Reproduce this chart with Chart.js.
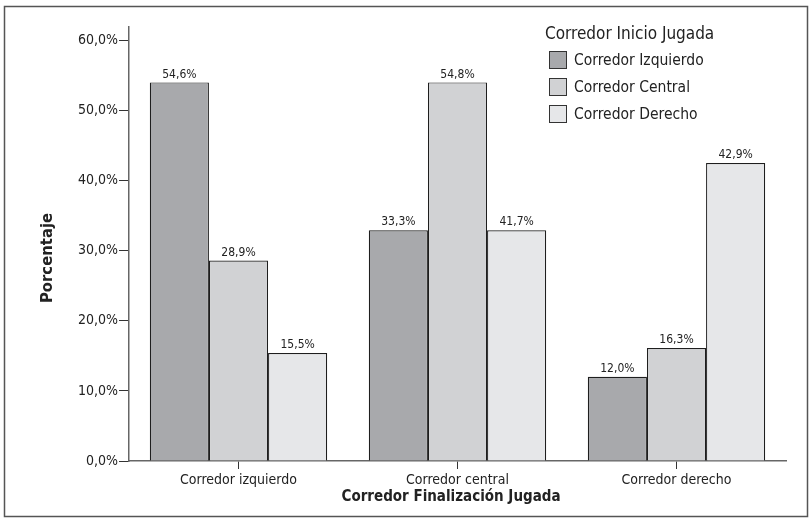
<!DOCTYPE html>
<html>
<head>
<meta charset="utf-8">
<script src="https://cdn.jsdelivr.net/npm/chart.js@4"></script>
<style>
  html, body { margin: 0; padding: 0; background: #fff; }
  #wrap { width: 812px; height: 523px; }
</style>
</head>
<body>
<div id="wrap"><canvas id="grafica" width="812" height="523"></canvas></div>
<script>
// ==============================
// DATOS
// ==============================
const categorias = ['Corredor izquierdo', 'Corredor central', 'Corredor derecho'];
const series = ['Corredor Izquierdo', 'Corredor Central', 'Corredor Derecho'];

// altura de las barras tal como se ven
const izquierdo = [54.0, 32.9, 12.0];
const central   = [28.6, 54.0, 16.1];
const derecho   = [15.4, 32.9, 42.5];

// etiquetas impresas encima de cada barra
const etiqIzquierdo = ['54,6%', '33,3%', '12,0%'];
const etiqCentral   = ['28,9%', '54,8%', '16,3%'];
const etiqDerecho   = ['15,5%', '41,7%', '42,9%'];

const ticksY = [0, 10, 20, 30, 40, 50, 60];
const tituloLeyenda = 'Corredor Inicio Jugada';
const tituloX = 'Corredor Finalización Jugada';
const tituloY = 'Porcentaje';

const colores = ['#a8a9ac', '#d1d2d4', '#e6e7e9'];
const FUENTE = '"Liberation Sans Narrow", "DejaVu Sans Condensed", Arial, sans-serif';

// ==============================
// PLUGIN: MARCO, LEYENDA, TITULOS Y ETIQUETAS
// ==============================
const extrasPlugin = {
    id: 'extras',

    beforeDraw(chart) {
        const ctx = chart.ctx;
        ctx.save();
        ctx.fillStyle = '#fff';
        ctx.fillRect(0, 0, chart.width, chart.height);
        ctx.strokeStyle = '#555';
        ctx.lineWidth = 1.5;
        ctx.strokeRect(4.5, 6.5, 803, 510);
        ctx.restore();
    },

    afterDatasetsDraw(chart) {
        const ctx = chart.ctx;
        ctx.save();

        // etiquetas de valor
        ctx.font = '12px ' + FUENTE;
        ctx.fillStyle = '#222';
        ctx.textAlign = 'center';
        ctx.textBaseline = 'bottom';
        chart.data.datasets.forEach((ds, i) => {
            chart.getDatasetMeta(i).data.forEach((bar, j) => {
                ctx.fillText(ds.etiquetas[j], bar.x, bar.y - 2);
            });
        });

        // leyenda
        ctx.textAlign = 'left';
        ctx.textBaseline = 'middle';
        ctx.font = '17px ' + FUENTE;
        ctx.fillStyle = '#222';
        ctx.fillText(tituloLeyenda, 545, 35);
        ctx.font = '15.5px ' + FUENTE;
        chart.data.datasets.forEach((ds, i) => {
            const y = 60 + i * 27;
            ctx.fillStyle = ds.backgroundColor;
            ctx.fillRect(549, y - 9, 18, 18);
            ctx.strokeStyle = '#333';
            ctx.lineWidth = 1;
            ctx.strokeRect(549.5, y - 8.5, 17, 17);
            ctx.fillStyle = '#222';
            ctx.fillText(ds.label, 574, y + 1);
        });

        // titulos de ejes
        ctx.font = 'bold 15px ' + FUENTE;
        ctx.textAlign = 'center';
        ctx.fillText(tituloX, 451, 497);

        ctx.font = 'bold 16.5px ' + FUENTE;
        ctx.translate(48, 258);
        ctx.rotate(-Math.PI / 2);
        ctx.fillText(tituloY, 0, 0);

        ctx.restore();
    }
};

function crearSerie(nombre, valores, etiquetas, color) {
    return {
        label: nombre,
        data: valores,
        etiquetas: etiquetas,
        backgroundColor: color,
        borderColor: '#1e1e1e',
        borderWidth: 1.2,
        borderSkipped: 'bottom',
        categoryPercentage: 0.81,
        barPercentage: 1.0
    };
}

// ==============================
// GRAFICA
// ==============================
new Chart(document.getElementById('grafica'), {
    type: 'bar',
    data: {
        labels: categorias,
        datasets: [
            crearSerie(series[0], izquierdo, etiqIzquierdo, colores[0]),
            crearSerie(series[1], central, etiqCentral, colores[1]),
            crearSerie(series[2], derecho, etiqDerecho, colores[2])
        ]
    },
    options: {
        responsive: false,
        animation: false,
        layout: { padding: { left: 0, right: 26, top: 27, bottom: 0 } },
        plugins: {
            legend: { display: false },
            tooltip: { enabled: false }
        },
        scales: {
            x: {
                afterFit(scale) { scale.height = 62; },
                grid: {
                    offset: false,
                    drawOnChartArea: false,
                    drawTicks: true,
                    tickLength: 8,
                    color: '#333'
                },
                border: { display: true, color: '#666', width: 1.5 },
                ticks: {
                    color: '#222',
                    padding: 3,
                    font: { size: 14, family: FUENTE }
                }
            },
            y: {
                min: 0,
                max: 61.9,
                afterFit(scale) { scale.width = 129; },
                afterBuildTicks(scale) {
                    scale.ticks = ticksY.map(v => ({ value: v }));
                },
                grid: {
                    drawOnChartArea: false,
                    drawTicks: true,
                    tickLength: 10,
                    color: '#333'
                },
                border: { display: true, color: '#666', width: 1.5 },
                ticks: {
                    color: '#222',
                    padding: 1,
                    font: { size: 14, family: FUENTE },
                    callback: v => v.toFixed(1).replace('.', ',') + '%'
                }
            }
        }
    },
    plugins: [extrasPlugin]
});
</script>
</body>
</html>
